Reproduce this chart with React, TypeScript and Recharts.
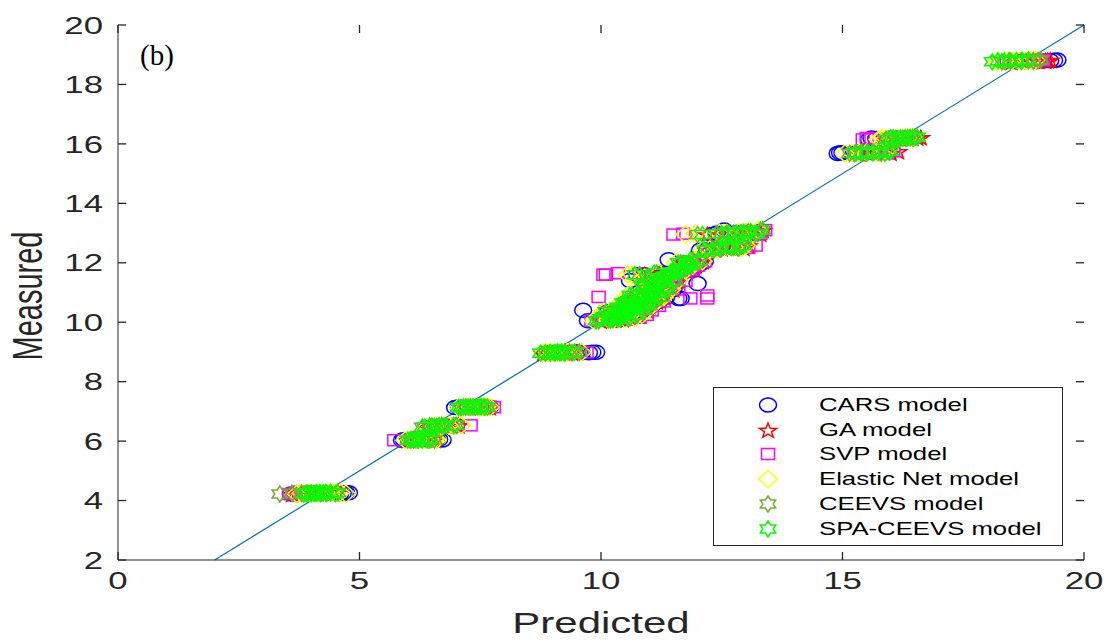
import React from 'react';
import { ScatterChart, Scatter, XAxis, YAxis, ReferenceLine } from 'recharts';

// Measured values of the samples (shared by every model)
const measured = [
  4.22, 4.24, 4.25, 4.26, 4.27, 4.23,
  6.03, 6.05, 6.06, 6.04,
  6.47, 6.49, 6.51, 6.53,
  7.13, 7.15, 7.16, 7.14,
  8.96, 8.98, 9.0, 8.97, 8.99,
  10.05, 10.08, 10.1, 10.12, 10.15, 10.2, 10.25, 10.3, 10.35, 10.4, 10.45, 10.5, 10.55, 10.6, 10.65, 10.7, 10.8,
  10.85, 10.9, 11.0, 11.1, 11.2, 11.3, 11.4, 11.5, 11.55, 11.6, 11.65, 11.7, 11.75, 11.9, 12.0, 12.05, 12.1,
  12.42, 12.48, 12.52, 12.58,
  12.95, 12.98, 13.0, 13.05, 13.1,
  15.68, 15.7, 15.72, 15.75,
  16.15, 16.18, 16.2, 16.22,
  18.76, 18.78, 18.8, 18.82,
  // repeated measurements
  4.25, 4.24, 4.26, 4.25,
  6.05, 6.04, 6.06,
  6.5, 6.52,
  7.15, 7.14, 7.16,
  8.98, 8.97, 8.99,
  10.1, 10.2, 10.3, 10.4, 10.5, 10.6, 10.7, 10.8, 10.9, 11.0, 11.1, 11.2, 11.3, 11.45, 11.6, 11.7, 11.8, 11.95,
  12.45, 12.55, 12.5,
  13.0, 13.02, 12.97,
  15.7, 15.71, 15.69,
  16.2, 16.19, 16.21,
  18.8, 18.79, 18.81,
];

const carsPred = [
  3.58, 4.6, 4.7, 4.78, 4.0, 3.7,
  5.88, 6.3, 6.6, 6.72,
  6.4, 6.6, 6.85, 7.0,
  6.98, 7.25, 7.5, 7.7,
  8.85, 9.2, 9.5, 9.75, 9.9,
  9.73, 10.25, 10.45, 10.0, 10.65, 10.3, 10.8, 10.55, 10.15, 9.63, 10.75, 10.45, 11.05, 10.9, 10.5, 11.2, 11.65,
  11.35, 10.8, 11.15, 11.5, 11.0, 12.0, 10.6, 11.2, 11.45, 10.9, 11.3, 11.6, 11.85, 12.0, 11.75, 12.15, 11.4,
  12.05, 12.35, 12.6, 12.9,
  12.3, 12.7, 12.95, 13.3, 12.55,
  14.9, 15.0, 15.6, 15.9,
  15.55, 15.7, 16.1, 16.4,
  18.6, 19.0, 19.3, 19.45,
  3.65, 4.65, 4.72, 4.1,
  5.92, 6.45, 6.65,
  6.5, 6.95,
  7.05, 7.4, 7.6,
  9.05, 9.6, 9.82,
  10.35, 10.55, 10.4, 10.8, 10.7, 10.95, 10.65, 11.6, 11.15, 11.25, 11.05, 11.5, 11.3, 11.55, 10.75, 11.7, 11.9, 12.05,
  12.2, 12.5, 12.75,
  12.4, 12.8, 13.1,
  14.95, 15.3, 15.75,
  15.6, 15.95, 16.25,
  18.8, 19.15, 19.38,
];

const gaPred = [
  3.6, 3.85, 4.1, 4.35, 4.55, 3.75,
  6.0, 6.25, 6.4, 6.55,
  6.4, 6.65, 6.9, 7.05,
  7.15, 7.35, 7.55, 7.7,
  8.8, 9.0, 9.2, 9.4, 9.5,
  10.0, 10.2, 10.45, 10.1, 10.6, 10.35, 10.8, 10.5, 10.25, 10.95, 10.7, 10.45, 11.0, 10.85, 10.55, 11.15, 10.9,
  11.3, 10.75, 11.1, 11.5, 10.95, 11.35, 11.6, 11.1, 11.4, 10.9, 11.2, 11.55, 11.8, 11.95, 11.7, 12.1, 12.0,
  12.2, 12.5, 12.8, 13.05,
  12.2, 12.6, 12.9, 13.2, 13.35,
  15.35, 15.6, 15.85, 16.15,
  15.9, 16.2, 16.45, 16.62,
  18.5, 18.9, 19.2, 19.3,
  3.7, 3.95, 4.25, 4.45,
  6.1, 6.3, 6.5,
  6.55, 6.8,
  7.25, 7.45, 7.62,
  8.9, 9.1, 9.3,
  10.3, 10.5, 10.4, 10.75, 10.65, 10.9, 10.7, 11.1, 10.85, 11.2, 11.0, 11.4, 11.2, 11.4, 11.5, 11.65, 11.85, 11.9,
  12.35, 12.65, 12.95,
  12.75, 13.05, 13.3,
  15.5, 15.75, 16.0,
  16.05, 16.35, 16.55,
  18.7, 19.05, 19.25,
];

const svpPred = [
  3.55, 3.8, 4.05, 4.3, 4.5, 3.62,
  5.72, 6.1, 6.35, 6.5,
  6.45, 6.7, 7.0, 7.3,
  7.2, 7.45, 7.65, 7.78,
  8.9, 9.1, 9.3, 9.55, 9.7,
  9.8, 10.3, 10.6, 10.0, 10.8, 10.4, 10.95, 10.7, 10.1, 11.05, 10.9, 10.5, 11.2, 11.0, 10.6, 11.3, 11.85,
  9.95, 12.2, 11.25, 11.6, 11.1, 11.5, 11.75, 11.55, 11.6, 10.1, 10.35, 11.7, 11.9, 12.0, 11.8, 12.15, 12.05,
  12.25, 12.6, 12.85, 13.2,
  11.5, 11.7, 12.7, 13.15, 13.4,
  15.3, 15.55, 15.8, 16.05,
  15.42, 15.6, 16.25, 16.5,
  18.4, 18.8, 19.05, 19.15,
  3.7, 3.95, 4.2, 4.4,
  6.0, 6.25, 6.45,
  6.6, 6.9,
  7.3, 7.55, 7.7,
  9.0, 9.2, 9.45,
  10.3, 10.5, 10.35, 10.75, 10.7, 10.9, 10.75, 12.2, 11.1, 11.3, 11.05, 11.45, 11.25, 11.5, 10.05, 11.65, 11.85, 11.95,
  12.4, 12.75, 13.05,
  12.5, 12.95, 13.3,
  15.42, 15.68, 15.92,
  15.5, 16.1, 16.4,
  18.6, 18.95, 19.1,
];

const elasticPred = [
  3.7, 3.9, 4.15, 4.4, 4.6, 4.72,
  5.95, 6.2, 6.45, 6.6,
  6.4, 6.7, 6.95, 7.1,
  7.05, 7.3, 7.55, 7.7,
  8.8, 9.0, 9.2, 9.4, 9.6,
  9.85, 10.25, 10.5, 9.95, 10.7, 10.2, 10.85, 10.55, 10.05, 10.95, 10.75, 10.3, 11.05, 10.8, 10.4, 11.15, 10.9,
  11.3, 10.55, 11.1, 11.45, 10.8, 11.3, 11.6, 10.9, 11.4, 10.55, 11.2, 11.55, 11.75, 11.9, 11.55, 12.1, 11.95,
  12.1, 12.4, 12.75, 13.0,
  11.75, 11.95, 12.6, 13.0, 13.25,
  15.05, 15.35, 15.7, 15.9,
  15.75, 15.9, 16.2, 16.45,
  18.2, 18.5, 18.8, 19.0,
  3.8, 4.0, 4.3, 4.5,
  6.05, 6.35, 6.55,
  6.55, 6.85,
  7.2, 7.45, 7.62,
  8.9, 9.1, 9.3,
  10.15, 10.35, 10.3, 10.65, 10.6, 10.85, 10.6, 11.05, 10.85, 11.15, 10.9, 11.35, 11.05, 11.3, 10.65, 11.5, 11.7, 11.8,
  12.25, 12.6, 12.9,
  12.45, 12.85, 13.15,
  15.2, 15.5, 15.8,
  15.82, 16.05, 16.35,
  18.35, 18.65, 18.9,
];

const ceevsPred = [
  3.35, 3.9, 4.1, 4.3, 4.55, 4.2,
  6.05, 6.2, 6.4, 6.55,
  6.3, 6.6, 6.8, 7.0,
  7.1, 7.3, 7.5, 7.65,
  8.85, 9.05, 9.25, 9.4, 9.55,
  9.95, 10.2, 10.4, 10.05, 10.6, 10.3, 10.75, 10.5, 10.2, 10.9, 10.65, 10.4, 11.0, 10.75, 10.5, 11.1, 10.85,
  11.25, 10.65, 11.05, 11.4, 10.9, 11.25, 11.55, 11.0, 11.35, 10.8, 11.15, 11.5, 11.7, 11.85, 11.65, 12.05, 11.9,
  12.2, 12.5, 12.75, 12.9,
  12.0, 12.4, 12.75, 13.1, 13.35,
  15.15, 15.4, 15.65, 15.95,
  15.9, 16.1, 16.3, 16.5,
  18.3, 18.7, 18.95, 19.1,
  3.8, 4.0, 4.4, 3.6,
  6.12, 6.3, 6.48,
  6.5, 6.7,
  7.2, 7.4, 7.58,
  8.95, 9.15, 9.35,
  10.25, 10.45, 10.3, 10.65, 10.55, 10.85, 10.6, 11.05, 10.8, 11.15, 10.95, 11.35, 11.1, 11.3, 11.45, 11.6, 11.75, 11.8,
  12.35, 12.65, 12.85,
  12.6, 12.9, 13.25,
  15.28, 15.52, 15.8,
  16.0, 16.2, 16.4,
  18.45, 18.85, 19.05,
];

const spaCeevsPred = [
  3.85, 4.0, 4.12, 4.25, 4.4, 4.5,
  6.0, 6.15, 6.3, 6.45,
  6.35, 6.55, 6.75, 6.95,
  7.05, 7.25, 7.45, 7.6,
  8.75, 8.95, 9.1, 9.25, 9.45,
  9.9, 10.15, 10.35, 10.0, 10.55, 10.25, 10.7, 10.45, 10.1, 10.85, 10.6, 10.35, 10.95, 10.7, 10.45, 11.05, 10.8,
  11.2, 10.6, 11.0, 11.35, 10.85, 11.2, 11.5, 10.95, 11.3, 10.7, 11.1, 11.45, 11.65, 11.8, 11.6, 12.0, 11.85,
  12.15, 12.45, 12.7, 12.95,
  12.1, 12.5, 12.8, 13.05, 13.3,
  15.25, 15.5, 15.75, 16.0,
  15.95, 16.15, 16.35, 16.55,
  18.1, 18.35, 18.6, 18.85,
  3.93, 4.06, 4.18, 4.32,
  6.08, 6.22, 6.38,
  6.45, 6.65,
  7.15, 7.35, 7.52,
  8.85, 9.03, 9.18,
  10.2, 10.4, 10.25, 10.6, 10.5, 10.8, 10.55, 11.0, 10.75, 11.1, 10.9, 11.3, 11.05, 11.25, 11.4, 11.55, 11.7, 11.75,
  12.3, 12.6, 12.85,
  12.65, 12.95, 13.2,
  15.38, 15.62, 15.88,
  16.05, 16.25, 16.45,
  18.22, 18.48, 18.72,
];

const xTicks = [0, 5, 10, 15, 20];
const yTicks = [2, 4, 6, 8, 10, 12, 14, 16, 18, 20];
const xDomain: [number, number] = [0, 20];
const yDomain: [number, number] = [2, 20];
const idealLine = [{ x: 2, y: 2 }, { x: 20, y: 20 }];

type Kind = 'circle' | 'pentagram' | 'square' | 'diamond' | 'hexagram';

const seriesDefs: { name: string; pred: number[]; color: string; kind: Kind }[] = [
  { name: 'CARS model', pred: carsPred, color: '#0000FF', kind: 'circle' },
  { name: 'GA model', pred: gaPred, color: '#FF0000', kind: 'pentagram' },
  { name: 'SVP model', pred: svpPred, color: '#FF00FF', kind: 'square' },
  { name: 'Elastic Net model', pred: elasticPred, color: '#FFFF00', kind: 'diamond' },
  { name: 'CEEVS model', pred: ceevsPred, color: '#77AC30', kind: 'hexagram' },
  { name: 'SPA-CEEVS model', pred: spaCeevsPred, color: '#00FF00', kind: 'hexagram' },
];

const FONT = '"Liberation Sans", Arial, Helvetica, sans-serif';
const INK = '#262626';
const SX = 1.45;
// inward tick length expressed in axis units (about 8 px)
const X_TICK_LEN = 0.17;
const Y_TICK_LEN = 0.27;

function starPoints(cx: number, cy: number, n: number, R: number, r: number, sx: number) {
  const pts: string[] = [];
  for (let i = 0; i < n * 2; i++) {
    const rad = i % 2 === 0 ? R : r;
    const a = -Math.PI / 2 + (i * Math.PI) / n;
    pts.push(`${(cx + rad * Math.cos(a) * sx).toFixed(2)},${(cy + rad * Math.sin(a)).toFixed(2)}`);
  }
  return pts.join(' ');
}

function Marker({ kind, cx, cy, color }: { kind: Kind; cx: number; cy: number; color: string }) {
  const common = { fill: 'none', stroke: color, strokeWidth: 1.5 };
  if (cx == null || cy == null) return null;
  switch (kind) {
    case 'circle':
      return <ellipse cx={cx} cy={cy} rx={8.5} ry={7} {...common} />;
    case 'pentagram':
      return <polygon points={starPoints(cx, cy + 0.8, 5, 7.8, 3.2, 1.15)} {...common} />;
    case 'square':
      return <rect x={cx - 6.5} y={cy - 5.5} width={13} height={11} {...common} />;
    case 'diamond':
      return (
        <polygon
          points={`${cx},${cy - 8.5} ${cx + 9.5},${cy} ${cx},${cy + 8.5} ${cx - 9.5},${cy}`}
          {...common}
        />
      );
    case 'hexagram':
    default:
      return <polygon points={starPoints(cx, cy, 6, 8, 4.6, 1.12)} {...common} />;
  }
}

const XTick = (props: any) => {
  const { x, y, payload } = props;
  return (
    <text
      transform={`translate(${x},${y}) scale(${SX},1)`}
      textAnchor="middle"
      dy="0.71em"
      fontSize={24}
      fontFamily={FONT}
      fill={INK}
    >
      {payload.value}
    </text>
  );
};

const YTick = (props: any) => {
  const { x, y, payload } = props;
  return (
    <text
      transform={`translate(${x},${y}) scale(${SX},1)`}
      textAnchor="end"
      dy="0.36em"
      fontSize={24}
      fontFamily={FONT}
      fill={INK}
    >
      {payload.value}
    </text>
  );
};

const NoTick = () => <g />;

const XTitle = (props: any) => {
  const vb = props.viewBox || { x: 118, width: 966, y: 560, height: 80 };
  const cx = vb.x + vb.width / 2;
  return (
    <text
      transform={`translate(${cx},633) scale(1.4,1)`}
      textAnchor="middle"
      fontSize={30}
      fontFamily={FONT}
      fill={INK}
    >
      Predicted
    </text>
  );
};

const YTitle = () => (
  <text
    transform={`translate(27,296) scale(1.45,1) rotate(-90)`}
    textAnchor="middle"
    dominantBaseline="central"
    fontSize={29}
    fontFamily={FONT}
    fill={INK}
  >
    Measured
  </text>
);

function LegendBox() {
  const rowY = [17, 42, 66, 91, 116, 141];
  return (
    <div
      style={{
        position: 'absolute',
        left: 713,
        top: 387,
        width: 348,
        height: 157,
        border: `1px solid ${INK}`,
        background: '#fff',
      }}
    >
      <svg width={348} height={157} style={{ display: 'block' }}>
        {seriesDefs.map((s, i) => (
          <g key={s.name}>
            <Marker kind={s.kind} cx={54} cy={rowY[i]} color={s.color} />
            <text
              transform={`translate(105,${rowY[i]}) scale(1.43,1)`}
              dy="0.36em"
              fontSize={18}
              fontFamily={FONT}
              fill="#000"
            >
              {s.name}
            </text>
          </g>
        ))}
      </svg>
    </div>
  );
}

const tickStyle = { stroke: INK, strokeWidth: 1.3 };

export default function App() {
  return (
    <div style={{ position: 'absolute', left: 0, top: 0, width: 1109, height: 640, background: '#fff' }}>
      <ScatterChart width={1109} height={640} margin={{ top: 25, right: 25, bottom: 0, left: 0 }}>
        <XAxis
          xAxisId="main"
          dataKey="x"
          type="number"
          domain={xDomain}
          ticks={xTicks}
          interval={0}
          height={80}
          tickLine={false}
          tickSize={0}
          tickMargin={12}
          tick={<XTick />}
          axisLine={{ stroke: INK, strokeWidth: 1 }}
          label={{ content: (p: any) => <XTitle {...p} /> }}
          allowDataOverflow
        />
        <XAxis
          xAxisId="top"
          orientation="top"
          type="number"
          domain={xDomain}
          ticks={xTicks}
          height={0}
          tickLine={false}
          tick={<NoTick />}
          axisLine={{ stroke: INK, strokeWidth: 1 }}
          allowDataOverflow
        />
        <YAxis
          yAxisId="main"
          dataKey="y"
          type="number"
          domain={yDomain}
          ticks={yTicks}
          interval={0}
          width={118}
          tickLine={false}
          tickSize={0}
          tickMargin={15}
          tick={<YTick />}
          axisLine={{ stroke: INK, strokeWidth: 1 }}
          label={{ content: () => <YTitle /> }}
          allowDataOverflow
        />
        <YAxis
          yAxisId="right"
          orientation="right"
          type="number"
          domain={yDomain}
          ticks={yTicks}
          width={0}
          tickLine={false}
          tick={<NoTick />}
          axisLine={{ stroke: INK, strokeWidth: 1 }}
          allowDataOverflow
        />
        {seriesDefs.map((s) => (
          <Scatter
            key={s.name}
            name={s.name}
            xAxisId="main"
            yAxisId="main"
            data={measured.map((m, i) => ({ x: s.pred[i], y: m }))}
            isAnimationActive={false}
            shape={(p: any) => <Marker kind={s.kind} cx={p.cx} cy={p.cy} color={s.color} />}
          />
        ))}
        <ReferenceLine
          xAxisId="main"
          yAxisId="main"
          segment={idealLine}
          stroke="#0072BD"
          strokeWidth={1.2}
          ifOverflow="visible"
        />
        {xTicks.map((t) => (
          <ReferenceLine
            key={`xb${t}`}
            xAxisId="main"
            yAxisId="main"
            segment={[{ x: t, y: yDomain[0] }, { x: t, y: yDomain[0] + Y_TICK_LEN }]}
            {...tickStyle}
            ifOverflow="visible"
          />
        ))}
        {xTicks.map((t) => (
          <ReferenceLine
            key={`xt${t}`}
            xAxisId="main"
            yAxisId="main"
            segment={[{ x: t, y: yDomain[1] }, { x: t, y: yDomain[1] - Y_TICK_LEN }]}
            {...tickStyle}
            ifOverflow="visible"
          />
        ))}
        {yTicks.map((t) => (
          <ReferenceLine
            key={`yl${t}`}
            xAxisId="main"
            yAxisId="main"
            segment={[{ x: xDomain[0], y: t }, { x: xDomain[0] + X_TICK_LEN, y: t }]}
            {...tickStyle}
            ifOverflow="visible"
          />
        ))}
        {yTicks.map((t) => (
          <ReferenceLine
            key={`yr${t}`}
            xAxisId="main"
            yAxisId="main"
            segment={[{ x: xDomain[1], y: t }, { x: xDomain[1] - X_TICK_LEN, y: t }]}
            {...tickStyle}
            ifOverflow="visible"
          />
        ))}
      </ScatterChart>
      <LegendBox />
      <div
        style={{
          position: 'absolute',
          left: 140,
          top: 38,
          fontFamily: '"Liberation Serif", "Times New Roman", serif',
          fontSize: 29,
          lineHeight: '34px',
          color: '#000',
        }}
      >
        (b)
      </div>
    </div>
  );
}
